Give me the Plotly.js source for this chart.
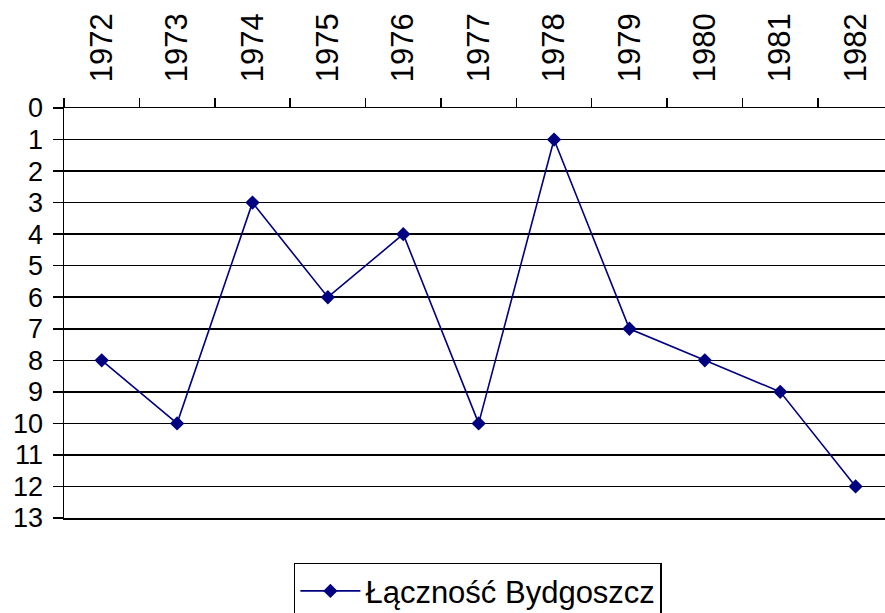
<!DOCTYPE html>
<html><head><meta charset="utf-8">
<script src="https://cdn.plot.ly/plotly-3.0.1.min.js"></script>
<style>html,body{margin:0;padding:0;background:#fff}#c{width:885px;height:613px}</style>
</head><body><div id="c"></div>
<script>
const years = ["1972","1973","1974","1975","1976","1977","1978","1979","1980","1981","1982"];
const rank = [8,10,3,6,4,10,1,7,8,9,12];
const seriesName = "Łączność Bydgoszcz";
const yTicks = [0,1,2,3,4,5,6,7,8,9,10,11,12,13];

const trace = {
  x: years, y: rank, name: seriesName, type: 'scatter', mode: 'lines+markers',
  line: {color: '#000080', width: 1.6},
  marker: {symbol: 'diamond', size: 11, color: '#000080'},
  showlegend: true
};
const layout = {
  width: 885, height: 613,
  margin: {l: 64, r: 0, t: 108, b: 95, pad: 0},
  paper_bgcolor: '#fff', plot_bgcolor: '#fff',
  font: {family: 'Liberation Sans, Arial, sans-serif', color: '#000'},
  showlegend: true,
  xaxis: {
    type: 'category', side: 'top', range: [-0.5, 10.39],
    tickson: 'boundaries', ticks: 'outside', ticklen: 9, tickwidth: 1.5, tickcolor: '#000',
    showline: true, mirror: true, linecolor: '#000', linewidth: 1.5, showgrid: false, zeroline: false,
    tickangle: -90, tickfont: {size: 31, family: 'Liberation Sans, Arial, sans-serif'},
    ticklabelstandoff: 18, fixedrange: true
  },
  yaxis: {
    range: [13, 0], tickvals: yTicks, ticktext: yTicks.map(String),
    ticks: 'outside', ticklen: 10, tickwidth: 1.5, tickcolor: '#000',
    showline: true, linecolor: '#000', linewidth: 1.5,
    showgrid: true, gridcolor: '#000', gridwidth: 1.5, zeroline: false,
    tickfont: {size: 27, family: 'Liberation Sans, Arial, sans-serif'},
    ticklabelstandoff: 4, fixedrange: true
  },
  legend: {
    orientation: 'h', xref: 'container', yref: 'container',
    x: 0.54, xanchor: 'center', y: 0.082, yanchor: 'top',
    bordercolor: '#000', borderwidth: 1.5, bgcolor: '#fff', itemwidth: 60,
    font: {size: 31, family: 'Liberation Sans, Arial, sans-serif'}
  }
};
Plotly.newPlot('c', [trace], layout, {displayModeBar: false, staticPlot: true});
</script></body></html>
